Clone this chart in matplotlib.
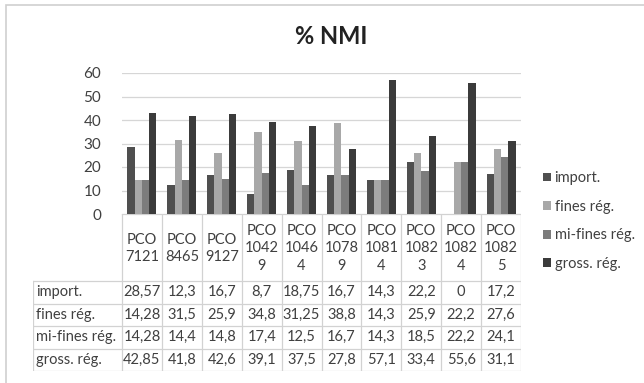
import numpy as np
import matplotlib
matplotlib.use('Agg')
from matplotlib import pyplot as plt
from matplotlib.patches import Rectangle

plt.rcParams['font.family'] = ['Lato', 'DejaVu Sans']

categories = ['PCO\n7121', 'PCO\n8465', 'PCO\n9127', 'PCO\n1042\n9', 'PCO\n1046\n4',
              'PCO\n1078\n9', 'PCO\n1081\n4', 'PCO\n1082\n3', 'PCO\n1082\n4', 'PCO\n1082\n5']
series_names = ['import.', 'fines rég.', 'mi-fines rég.', 'gross. rég.']
import_vals = [28.57, 12.3, 16.7, 8.7, 18.75, 16.7, 14.3, 22.2, 0, 17.2]
fines_vals = [14.28, 31.5, 25.9, 34.8, 31.25, 38.8, 14.3, 25.9, 22.2, 27.6]
mifines_vals = [14.28, 14.4, 14.8, 17.4, 12.5, 16.7, 14.3, 18.5, 22.2, 24.1]
gross_vals = [42.85, 41.8, 42.6, 39.1, 37.5, 27.8, 57.1, 33.4, 55.6, 31.1]
yticks = [0, 10, 20, 30, 40, 50, 60]

colors = ['#4f4f4f', '#a8a8a8', '#7c7c7c', '#3b3b3b']
txt = '#404040'
gridc = '#d6d6d6'

W, H = 644., 383.
def fx(px):
    return px / W
def fy(py):
    return 1. - py / H

fig = plt.figure(figsize=(6.44, 3.83), dpi=100)

# outer chart frame (top and left edges visible)
fig.patches.append(Rectangle((fx(6), fy(600)), 2., (600 - 5) / H, transform=fig.transFigure,
                             fill=False, edgecolor='#cfcfcf', lw=1.2))

fig.text(fx(331), fy(37), '% NMI', ha='center', va='center', fontsize=17,
         fontweight='bold', color='#222222')

# bar chart
x0, x1, y0, y1 = 122, 521, 214, 73
ax = fig.add_axes([fx(x0), fy(y0), fx(x1) - fx(x0), (y0 - y1) / H])
xs = np.arange(len(categories))
width = 1. / 5.5
all_vals = [import_vals, fines_vals, mifines_vals, gross_vals]
bars = []
for i, (name, vals, c) in enumerate(zip(series_names, all_vals, colors)):
    b = ax.bar(xs + (i - 1.5) * width, vals, width, color=c, label=name, zorder=3)
    bars.append(b)
ax.set_xlim(-0.5, len(categories) - 0.5)
ax.set_ylim(0, 60)
ax.set_yticks(yticks)
ax.set_xticks([])
ax.tick_params(axis='y', length=0, pad=15, labelsize=11, labelcolor=txt)
ax.grid(axis='y', color=gridc, lw=0.9, zorder=0)
for s in ax.spines.values():
    s.set_visible(False)

# data table below the chart
col_px = (x1 - x0) / len(categories)
lab_w = (x0 - 33) / col_px
tab = fig.add_axes([fx(33), fy(371), fx(x1) - fx(33), (371 - 214) / H])
tab.set_xlim(-0.5 - lab_w, len(categories) - 0.5)
tab.set_ylim(157, 0)
tab.axis('off')
xl = -0.5 - lab_w
head_h = 67
row_h = 22.5
lc = '#d2d2d2'
tab.plot([-0.5, len(categories) - 0.5], [0, 0], color=lc, lw=0.9)
for k in range(len(categories) + 1):
    tab.plot([k - 0.5, k - 0.5], [0, 157], color=lc, lw=0.9)
for r in range(len(series_names) + 1):
    yy = head_h + r * row_h
    tab.plot([xl, len(categories) - 0.5], [yy, yy], color=lc, lw=0.9)
tab.plot([xl, xl], [head_h, 157], color=lc, lw=0.9)

for k, cat in enumerate(categories):
    tab.text(k, head_h / 2. + 1, cat, ha='center', va='center', fontsize=10.5,
             color=txt, linespacing=1.35)
for r, (name, vals) in enumerate(zip(series_names, all_vals)):
    yc = head_h + (r + 0.5) * row_h
    tab.text(xl + 0.07, yc, name, ha='left', va='center', fontsize=10.5, color=txt)
    for k, v in enumerate(vals):
        tab.text(k, yc, '{:g}'.format(v).replace('.', ','), ha='center', va='center',
                 fontsize=10.5, color=txt)

leg = ax.legend(handles=bars, labels=series_names, loc='center left',
                bbox_to_anchor=(fx(543), fy(221)), bbox_transform=fig.transFigure,
                frameon=False, fontsize=10.5, labelcolor=txt, handlelength=0.55,
                handleheight=0.55, handletextpad=0.25, labelspacing=1.0,
                borderpad=0, borderaxespad=0)

fig.savefig('out.png', dpi=100)
